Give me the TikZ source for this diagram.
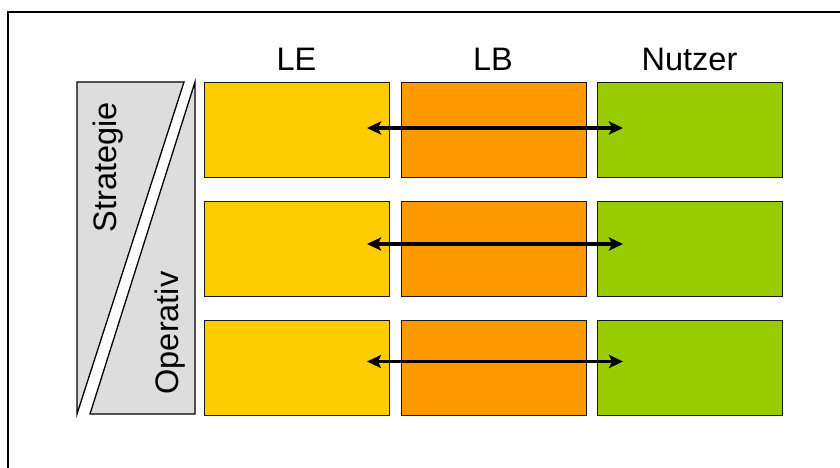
\documentclass[tikz,border=0pt]{standalone}
\usepackage{fontspec}
\setmainfont{Liberation Sans}
\usetikzlibrary{arrows.meta}
\definecolor{leyellow}{HTML}{FFCC00}
\definecolor{lborange}{HTML}{FF9900}
\definecolor{nugreen}{HTML}{99CC00}
\definecolor{panelgray}{HTML}{DDDDDD}
\definecolor{edge}{HTML}{1A1A1A}
\tikzset{
  cell/.style={draw=edge, line width=1.2pt, rectangle, inner sep=0pt,
    minimum width=185pt, minimum height=95pt, anchor=north west},
  head/.style={font=\fontsize{32.5}{39}\selectfont, anchor=base, inner sep=0pt},
  side/.style={font=\fontsize{32.5}{39}\selectfont, anchor=base, rotate=90, inner sep=0pt},
  panel/.style={fill=panelgray, draw=black, line width=1.3pt, line join=miter},
  link/.style={line width=3.6pt, {Stealth[length=14pt,width=13pt,inset=3pt]}-{Stealth[length=14pt,width=13pt,inset=3pt]}},
  frame/.style={line width=1.5pt, draw=black}
}
\begin{document}
\begin{tikzpicture}[x=1pt,y=-1pt]
\useasboundingbox (0,0) rectangle (840,468);
\fill[white] (0,0) rectangle (840,468);
% frame (only top and left edges visible)
\draw[frame] (8,468) -- (8,12) -- (840,12);
% side panels
\draw[panel] (77,82) -- (184,82) -- (77,414) -- cycle;
\draw[panel] (195,82) -- (195,414) -- (90,414) -- cycle;
\node[side] (strat) at (116,167) {Strategie};
\node[side] (oper) at (178,333) {Operativ};
% headers
\node[head] (hLE) at (296.5,71) {LE};
\node[head] (hLB) at (493,71) {LB};
\node[head] (hNU) at (689.5,71) {Nutzer};
% cells
\foreach \r/\y/\dy in {1/82/46,2/201/43,3/320/41.5}{
  \node[cell, fill=leyellow] (le\r) at (204,\y) {};
  \node[cell, fill=lborange] (lb\r) at (401,\y) {};
  \node[cell, fill=nugreen]  (nu\r) at (597,\y) {};
  \coordinate (s\r) at ([xshift=-34pt,yshift=-\dy pt]lb\r.north west);
  \coordinate (t\r) at ([xshift=26pt,yshift=-\dy pt]nu\r.north west);
  \draw[link] (s\r) -- (t\r);
}
\end{tikzpicture}
\end{document}
